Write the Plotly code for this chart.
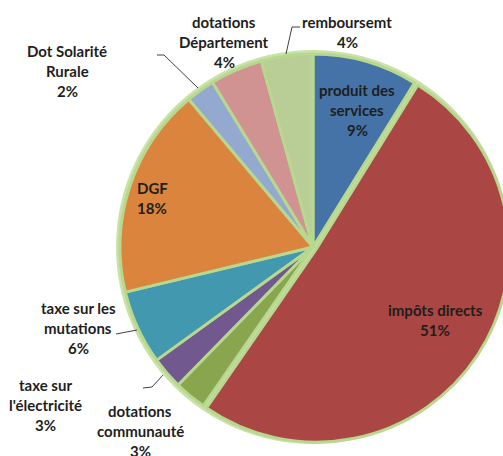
import plotly.graph_objects as go

# ---- data ----
labels = ["produit des services", "impôts directs", "dotations communauté",
          "taxe sur l'électricité", "taxe sur les mutations", "DGF",
          "Dot Solarité Rurale", "dotations Département", "remboursemt"]
values = [8.8, 50.7, 2.7, 2.7, 6.2, 17.6, 2.4, 4.4, 4.3]
label_lines = [["produit des", "services"], ["impôts directs"], ["dotations", "communauté"],
               ["taxe sur", "l'électricité"], ["taxe sur les", "mutations"], ["DGF"],
               ["Dot Solarité", "Rurale"], ["dotations", "Département"], ["remboursemt"]]
colors = ["#4572A7", "#AA4643", "#89A54E", "#71588F", "#4198AF", "#DB843D",
          "#93A9CF", "#D19392", "#B9CD96"]
pulls = [0, 0.02, 0, 0, 0, 0, 0, 0, 0]

# ---- layout geometry (pixels) ----
W, H = 530, 456
cx, cy, r = 313, 247, 193
half = r * (1 + max(pulls))

def px(x, y):
    return x / W, 1 - y / H

fig = go.Figure(go.Pie(
    labels=labels, values=values, sort=False, direction="clockwise", rotation=0,
    marker=dict(colors=colors, line=dict(color="#B8D78F", width=3)),
    pull=pulls, textinfo="none", hoverinfo="label+percent", showlegend=False,
    domain=dict(x=[(cx - half) / W, (cx + half) / W],
                y=[(H - cy - half) / H, (H - cy + half) / H]),
))

# outer glow
R = r + 4
x0, y1 = px(cx - R, cy - R)
x1, y0 = px(cx + R, cy + R)
shapes = [dict(type="circle", xref="paper", yref="paper", x0=x0, x1=x1, y0=y0, y1=y1,
               fillcolor="#C9E2A8", line=dict(width=0), layer="below")]

# label placement (center x, first-line y) in pixels
label_pos = [(357, 90), (435, 310), (140, 411), (45, 385), (78, 308),
             (152, 188), (67, 51), (224, 22), (347, 22)]
gap = 20
total = sum(values)
annotations = []
for lines, v, (lx, ly) in zip(label_lines, values, label_pos):
    txt = lines + [f"{round(v / total * 100)}%"]
    for i, t in enumerate(txt):
        ax, ay = px(lx, ly + i * gap)
        annotations.append(dict(text=t, x=ax, y=ay, xref="paper", yref="paper",
                                xanchor="center", yanchor="middle", showarrow=False,
                                font=dict(family="Lato", size=15, weight="bold", color="#1e1e1e")))

# leader lines
leaders = [
    [(286, 54), (292, 27), (300, 27)],
    [(198, 88), (164, 55), (157, 55)],
    [(137, 330), (116, 334)],
    [(163, 375), (152, 387), (143, 388)],
]
for pts in leaders:
    path = ""
    for i, (x, y) in enumerate(pts):
        X, Y = px(x, y)
        path += ("M" if i == 0 else "L") + f" {X} {Y} "
    shapes.append(dict(type="path", xref="paper", yref="paper", path=path,
                       line=dict(color="#404040", width=1)))

fig.update_layout(width=W, height=H, margin=dict(l=0, r=0, t=0, b=0),
                  paper_bgcolor="white", plot_bgcolor="white",
                  shapes=shapes, annotations=annotations)

fig.write_html("out.html", config={"displayModeBar": False}, post_script=(
    "document.body.style.margin='0';"
    "document.body.style.overflow='hidden';"
    "document.documentElement.style.overflow='hidden';"))
